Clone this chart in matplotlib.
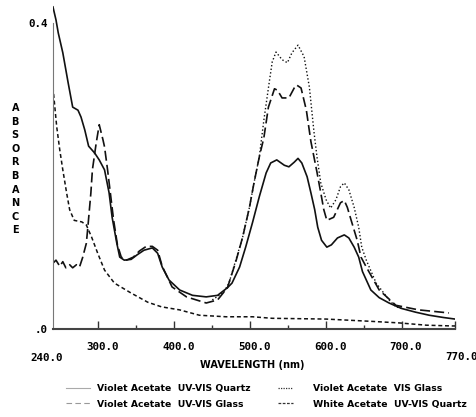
import matplotlib
matplotlib.use("Agg")
import matplotlib.pyplot as plt
from matplotlib.lines import Line2D
from matplotlib.transforms import ScaledTranslation

# Violet Acetate UV-VIS Quartz (solid)
quartz_nm = [240, 244, 247, 253, 260, 266, 273, 277, 282, 287, 295, 301, 308, 314, 318, 324, 328,
             334, 343, 351, 360, 371, 378, 384, 393, 407, 424, 442, 457, 470, 476, 486, 494, 503,
             512, 521, 527, 535, 545, 551, 558, 563, 568, 575, 580, 585, 589, 594, 601, 607, 615,
             624, 630, 637, 643, 648, 659, 670, 683, 699, 718, 736, 755, 770]
quartz_abs = [0.421, 0.404, 0.387, 0.361, 0.322, 0.290, 0.286, 0.277, 0.260, 0.239, 0.230, 0.221,
              0.208, 0.178, 0.146, 0.113, 0.094, 0.090, 0.091, 0.097, 0.103, 0.106, 0.099, 0.081,
              0.064, 0.051, 0.044, 0.042, 0.044, 0.054, 0.060, 0.081, 0.107, 0.139, 0.173, 0.204,
              0.217, 0.221, 0.214, 0.212, 0.218, 0.223, 0.217, 0.199, 0.178, 0.156, 0.133, 0.116,
              0.107, 0.110, 0.119, 0.123, 0.119, 0.107, 0.094, 0.075, 0.051, 0.041, 0.034, 0.027,
              0.022, 0.018, 0.015, 0.013]

# Violet Acetate UV-VIS Glass (long dash)
glass_nm = [240, 244, 249, 253, 257, 262, 266, 271, 275, 279, 284, 286, 290, 292, 297, 301, 306,
            308, 312, 316, 320, 325, 330, 337, 346, 354, 363, 371, 378, 384, 397, 416, 442, 457,
            470, 481, 490, 499, 505, 512, 518, 524, 532, 536, 542, 551, 558, 561, 567, 574, 580,
            588, 593, 597, 601, 610, 619, 624, 628, 634, 641, 646, 653, 670, 692, 722, 762]
glass_abs = [0.086, 0.090, 0.082, 0.088, 0.080, 0.084, 0.080, 0.084, 0.081, 0.093, 0.112, 0.133,
             0.178, 0.208, 0.243, 0.267, 0.247, 0.238, 0.208, 0.175, 0.142, 0.110, 0.094, 0.090,
             0.094, 0.102, 0.108, 0.108, 0.103, 0.082, 0.055, 0.042, 0.034, 0.038, 0.054, 0.088,
             0.120, 0.159, 0.191, 0.225, 0.250, 0.290, 0.314, 0.312, 0.302, 0.302, 0.315, 0.319,
             0.315, 0.286, 0.245, 0.205, 0.178, 0.156, 0.142, 0.146, 0.165, 0.168, 0.159, 0.139,
             0.116, 0.094, 0.081, 0.051, 0.031, 0.025, 0.021]

# Violet Acetate VIS Glass (dotted)
vis_nm = [450, 465, 472, 481, 490, 499, 505, 512, 518, 525, 529, 534, 542, 549, 555, 563, 571,
          578, 584, 588, 593, 600, 606, 613, 619, 624, 630, 637, 643, 647, 653, 666, 683, 692, 700]
vis_abs = [0.038, 0.048, 0.060, 0.090, 0.120, 0.159, 0.191, 0.225, 0.273, 0.322, 0.349, 0.362,
           0.352, 0.348, 0.361, 0.371, 0.356, 0.316, 0.258, 0.225, 0.191, 0.169, 0.158, 0.169,
           0.186, 0.191, 0.182, 0.159, 0.133, 0.107, 0.090, 0.060, 0.038, 0.029, 0.027]

# White Acetate UV-VIS Quartz (short dash)
white_nm = [240, 245, 249, 253, 258, 262, 268, 278, 284, 291, 299, 308, 321, 343, 365, 383, 407,
            433, 468, 503, 529, 600, 660, 696, 732, 766, 770]
white_abs = [0.316, 0.264, 0.234, 0.208, 0.178, 0.156, 0.142, 0.140, 0.136, 0.120, 0.099, 0.077,
             0.060, 0.047, 0.035, 0.029, 0.025, 0.018, 0.016, 0.016, 0.014, 0.013, 0.010, 0.008,
             0.005, 0.004, 0.004]

labels = ['Violet Acetate  UV-VIS Quartz', 'Violet Acetate  UV-VIS Glass',
          'Violet Acetate  VIS Glass', 'White Acetate  UV-VIS Quartz']

x_major = [300, 400, 500, 600, 700]
x_minor = [350, 450, 550, 650]

mono = dict(family='DejaVu Sans Mono', weight='bold', size=7.8)
sans = dict(family='DejaVu Sans', weight='bold', size=7)
leg_font = dict(family='DejaVu Sans', weight='bold', size=6.7)

fig = plt.figure(figsize=(4.77, 4.17), dpi=100)
ax = fig.add_axes([0.111, 0.211, 0.843, 0.789])

ink = '#111111'
ax.plot(quartz_nm, quartz_abs, color=ink, lw=1.2, linestyle='-')
ax.plot(glass_nm, glass_abs, color=ink, lw=1.2, linestyle=(0, (6, 2.5)))
ax.plot(vis_nm, vis_abs, color=ink, lw=1.0, linestyle=(0, (1, 1.6)))
ax.plot(white_nm, white_abs, color=ink, lw=1.1, linestyle=(0, (2.6, 1.8)))

ax.set_xlim(240, 770)
ax.set_ylim(0, 0.43)
ax.patch.set_alpha(0)

for s in ['top', 'right']:
    ax.spines[s].set_visible(False)
ax.spines['left'].set_bounds(0, 0.4)
ax.spines['left'].set_color('#777777')
ax.spines['left'].set_linewidth(0.8)
ax.spines['bottom'].set_color('#444444')
ax.spines['bottom'].set_linewidth(1.5)

ax.set_xticks(x_major + [770])
ax.set_xticklabels([f'{v:.1f}' for v in x_major] + [''], **mono)
ax.set_xticks(x_minor, minor=True)
ax.tick_params(axis='x', which='major', direction='in', length=6, width=1.0, color='#333333', pad=9)
ax.tick_params(axis='x', which='minor', direction='in', length=3, width=1.0, color='#333333')
shift = ScaledTranslation(4 / 100, 0, fig.dpi_scale_trans)
for lbl in ax.get_xticklabels():
    lbl.set_transform(lbl.get_transform() + shift)
ax.set_yticks([0, 0.4])
ax.set_yticklabels(['.0', '0.4'], **mono)
ax.tick_params(axis='y', length=0, pad=4)

ax.text(231.5, -0.032, '240.0', ha='center', va='top', clip_on=False, **mono)
ax.text(778, -0.030, '770.0', ha='center', va='top', clip_on=False, **mono)
ax.text(0.495, -0.095, 'WAVELENGTH (nm)', ha='center', va='top', transform=ax.transAxes, **sans)

for k, ch in enumerate('ABSORBANCE'):
    fig.text(0.032, 1 - (108 + k * 13.6) / 417, ch, ha='center', va='center', **sans)

handles = [Line2D([], [], color='#aaaaaa', lw=0.8, linestyle='-'),
           Line2D([], [], color='#999999', lw=0.8, linestyle=(0, (5, 3))),
           Line2D([], [], color='#333333', lw=0.9, linestyle=(0, (1, 1))),
           Line2D([], [], color='#333333', lw=0.9, linestyle=(0, (2.2, 1.2)))]
leg1 = fig.legend(handles[:2], labels[:2], loc='upper left', bbox_to_anchor=(0.138, 0.078),
                  frameon=False, prop=leg_font, handlelength=2.6, handletextpad=0.75,
                  labelspacing=0.65, borderpad=0, borderaxespad=0)
fig.legend(handles[2:], labels[2:], loc='upper left', bbox_to_anchor=(0.582, 0.078),
           frameon=False, prop=leg_font, handlelength=1.6, handletextpad=2.15,
           labelspacing=0.65, borderpad=0, borderaxespad=0)

fig.savefig('out.png', dpi=100)
